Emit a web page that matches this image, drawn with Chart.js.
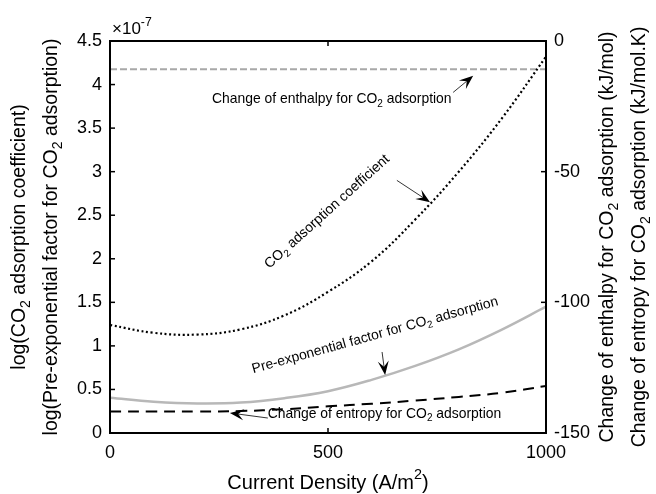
<!DOCTYPE html>
<html>
<head>
<meta charset="utf-8">
<script src="https://cdn.jsdelivr.net/npm/chart.js@4.4.1/dist/chart.umd.min.js"></script>
<style>
  html, body { margin: 0; padding: 0; background: #fff; }
  #wrap { width: 656px; height: 494px; }
</style>
</head>
<body>
<div id="wrap"><canvas id="myChart" width="656" height="494"></canvas></div>
<script>
// current density (A/m2)
var currentDensity = [0, 100, 200, 300, 400, 500, 600, 700, 800, 900, 1000];
// left axis, units of 1e-7
var adsorptionCoef = [1.24, 1.15, 1.13, 1.19, 1.35, 1.62, 1.97, 2.45, 3.0, 3.62, 4.32];
var preExpFactor = [0.405, 0.36, 0.34, 0.35, 0.40, 0.48, 0.61, 0.77, 0.96, 1.19, 1.45];
// right axis
var enthalpyChange = [-10.8, -10.8, -10.8, -10.8, -10.8, -10.8, -10.8, -10.8, -10.8, -10.8, -10.8];
var entropyChange = [-141.8, -141.8, -141.8, -141.6, -140.9, -139.8, -138.8, -137.6, -136.2, -134.6, -132.0];

var xTicks = [0, 500, 1000];
var leftTicks = [0, 0.5, 1, 1.5, 2, 2.5, 3, 3.5, 4, 4.5];
var rightTicks = [-150, -100, -50, 0];

var FONT = '"Liberation Sans", Arial, Helvetica, sans-serif';

function pts(ys){
    return currentDensity.map(function(x, i){ return {x: x, y: ys[i]}; });
}

// parts: [text, 0 normal | 1 subscript | -1 superscript]
function drawRich(ctx, parts, x, y, angle, size, align){
    ctx.save();
    ctx.translate(x, y);
    ctx.rotate(angle);
    ctx.textBaseline = 'middle';
    ctx.textAlign = 'left';
    ctx.fillStyle = '#000';
    var total = 0;
    parts.forEach(function(p){
        ctx.font = (p[1] ? size * 0.72 : size) + 'px ' + FONT;
        p.w = ctx.measureText(p[0]).width;
        total += p.w;
    });
    var cx = align === 'center' ? -total / 2 : 0;
    parts.forEach(function(p){
        ctx.font = (p[1] ? size * 0.72 : size) + 'px ' + FONT;
        var dy = p[1] === 1 ? size * 0.32 : (p[1] === -1 ? -size * 0.38 : 0);
        ctx.fillText(p[0], cx, dy);
        cx += p.w;
    });
    ctx.restore();
}

function arrow(ctx, x1, y1, x2, y2){
    var ang = Math.atan2(y2 - y1, x2 - x1);
    var L = 14, W = 5.5;
    ctx.save();
    ctx.strokeStyle = '#000';
    ctx.fillStyle = '#000';
    ctx.lineWidth = 0.8;
    ctx.beginPath();
    ctx.moveTo(x1, y1);
    ctx.lineTo(x2 - Math.cos(ang) * L * 0.6, y2 - Math.sin(ang) * L * 0.6);
    ctx.stroke();
    ctx.translate(x2, y2);
    ctx.rotate(ang);
    ctx.beginPath();
    ctx.moveTo(0, 0);
    ctx.lineTo(-L, -W);
    ctx.lineTo(-L * 0.6, 0);
    ctx.lineTo(-L, W);
    ctx.closePath();
    ctx.fill();
    ctx.restore();
}

var decorPlugin = {
    id: 'decor',
    afterDraw: function(chart){
        var ctx = chart.ctx, a = chart.chartArea;
        var sx = chart.scales.x, sy = chart.scales.y, sy2 = chart.scales.y2;
        var px = function(v){ return sx.getPixelForValue(v); };
        var py = function(v){ return sy.getPixelForValue(v); };

        ctx.save();
        ctx.strokeStyle = '#000';
        ctx.lineWidth = 2;
        ctx.strokeRect(a.left, a.top, a.right - a.left, a.bottom - a.top);
        ctx.lineWidth = 1.5;
        function seg(x1, y1, x2, y2){ ctx.beginPath(); ctx.moveTo(x1, y1); ctx.lineTo(x2, y2); ctx.stroke(); }
        xTicks.forEach(function(v){
            var p = px(v);
            seg(p, a.bottom, p, a.bottom - 5);
            seg(p, a.top, p, a.top + 5);
        });
        leftTicks.forEach(function(v){ var p = py(v); seg(a.left, p, a.left + 5, p); });
        rightTicks.forEach(function(v){ var p = sy2.getPixelForValue(v); seg(a.right, p, a.right - 5, p); });
        ctx.restore();

        // exponent
        drawRich(ctx, [['\u00d710', 0], ['-7', -1]], a.left + 2, a.top - 12, 0, 17, 'left');

        // axis titles
        var midY = (a.top + a.bottom) / 2;
        drawRich(ctx, [['log(CO', 0], ['2', 1], [' adsorption coefficient)', 0]], 20, midY, -Math.PI / 2, 19.5, 'center');
        drawRich(ctx, [['log(Pre-exponential factor for CO', 0], ['2', 1], [' adsorption)', 0]], 52, midY, -Math.PI / 2, 19.5, 'center');
        drawRich(ctx, [['Change of enthalpy for CO', 0], ['2', 1], [' adsorption (kJ/mol)', 0]], 608, midY, -Math.PI / 2, 19.5, 'center');
        drawRich(ctx, [['Change of entropy for CO', 0], ['2', 1], [' adsorption (kJ/mol.K)', 0]], 640, midY, -Math.PI / 2, 19.5, 'center');
        drawRich(ctx, [['Current Density (A/m', 0], ['2', -1], [')', 0]], (a.left + a.right) / 2, 483, 0, 20, 'center');

        // annotations
        var fs = 13.9;
        drawRich(ctx, [['Change of enthalpy for CO', 0], ['2', 1], [' adsorption', 0]], px(234), py(3.83), 0, fs, 'left');
        arrow(ctx, px(787), py(3.91), px(833), py(4.10));

        drawRich(ctx, [['CO', 0], ['2', 1], [' adsorption coefficient', 0]], px(498), py(2.54), -42 * Math.PI / 180, 14, 'center');
        arrow(ctx, px(658), py(2.90), px(734), py(2.65));

        drawRich(ctx, [['Pre-exponential factor for CO', 0], ['2', 1], [' adsorption', 0]], px(608), py(1.12), -15.5 * Math.PI / 180, fs, 'center');
        arrow(ctx, px(624), py(0.93), px(631), py(0.666));

        drawRich(ctx, [['Change of entropy for CO', 0], ['2', 1], [' adsorption', 0]], px(362), py(0.218), 0, fs, 'left');
        arrow(ctx, px(362), py(0.172), px(275), py(0.23));
    }
};

var tickFont = {family: FONT, size: 18};
var plainLabel = function(v){ return String(v); };

var chart = new Chart(document.getElementById('myChart').getContext('2d'), {
    type: 'line',
    data: {
        datasets: [{
            label: 'CO2 adsorption coefficient',
            data: pts(adsorptionCoef),
            yAxisID: 'y',
            borderColor: '#000',
            borderWidth: 2.2,
            borderDash: [2, 2.6],
            pointRadius: 0,
            tension: 0.4
        }, {
            label: 'Pre-exponential factor for CO2 adsorption',
            data: pts(preExpFactor),
            yAxisID: 'y',
            borderColor: '#b8b8b8',
            borderWidth: 2.5,
            pointRadius: 0,
            tension: 0.4
        }, {
            label: 'Change of enthalpy for CO2 adsorption',
            data: pts(enthalpyChange),
            yAxisID: 'y2',
            borderColor: '#a8a8a8',
            borderWidth: 2,
            borderDash: [7, 3],
            pointRadius: 0,
            tension: 0
        }, {
            label: 'Change of entropy for CO2 adsorption',
            data: pts(entropyChange),
            yAxisID: 'y2',
            borderColor: '#000',
            borderWidth: 2,
            borderDash: [11, 7],
            pointRadius: 0,
            tension: 0.4
        }]
    },
    options: {
        responsive: false,
        animation: false,
        layout: {padding: {top: 41, left: 0, right: 0, bottom: 0}},
        plugins: {legend: {display: false}, tooltip: {enabled: false}},
        scales: {
            x: {
                type: 'linear', min: 0, max: 1000,
                afterBuildTicks: function(s){ s.ticks = xTicks.map(function(v){ return {value: v}; }); },
                afterFit: function(s){ s.height = 61; },
                ticks: {font: tickFont, color: '#000', padding: 9, maxRotation: 0, callback: plainLabel},
                grid: {display: false, drawTicks: false},
                border: {display: false}
            },
            y: {
                position: 'left', min: 0, max: 4.5,
                afterBuildTicks: function(s){ s.ticks = leftTicks.map(function(v){ return {value: v}; }); },
                afterFit: function(s){ s.width = 110; },
                ticks: {font: tickFont, color: '#000', padding: 8, callback: plainLabel},
                grid: {display: false, drawTicks: false},
                border: {display: false}
            },
            y2: {
                position: 'right', min: -150, max: 0,
                afterBuildTicks: function(s){ s.ticks = rightTicks.map(function(v){ return {value: v}; }); },
                afterFit: function(s){ s.width = 110; },
                ticks: {font: tickFont, color: '#000', padding: 8, callback: plainLabel},
                grid: {display: false, drawTicks: false},
                border: {display: false}
            }
        }
    },
    plugins: [decorPlugin]
});
</script>
</body>
</html>
